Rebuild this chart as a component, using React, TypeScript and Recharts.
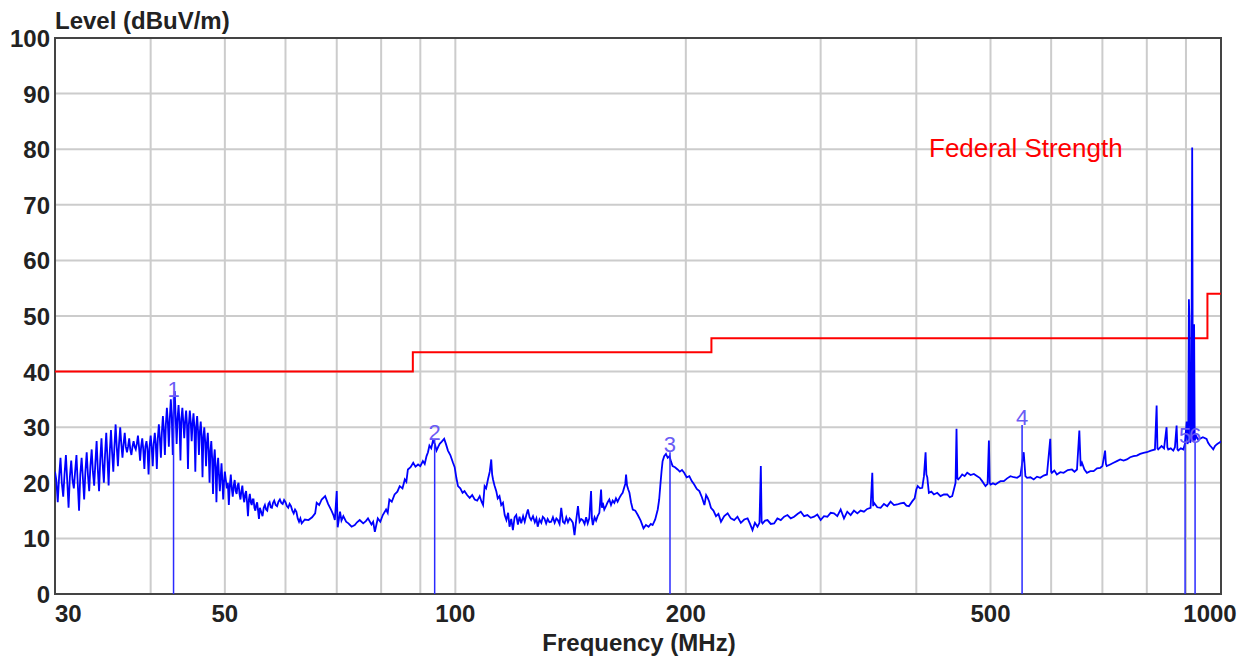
import { LineChart, Line, XAxis, YAxis, CartesianGrid, ReferenceLine, ReferenceDot, ReferenceArea } from "recharts";

// frequency (MHz), level (dBuV/m) pairs, split by band
const band30to50: [number, number][] = [
  [30.0, 22.0], [30.12, 20.5], [30.25, 16.5], [30.37, 21.0], [30.5, 24.5], [30.62, 20.0], [30.75, 17.5], [30.87, 21.5],
  [31.0, 25.0], [31.12, 20.5], [31.25, 15.5], [31.37, 21.0], [31.5, 24.0], [31.62, 20.5], [31.75, 19.0], [31.87, 22.0],
  [32.0, 25.0], [32.12, 20.0], [32.25, 15.0], [32.37, 21.5], [32.5, 24.5], [32.62, 21.0], [32.75, 17.0], [32.87, 22.0],
  [33.0, 25.5], [33.12, 21.5], [33.25, 18.5], [33.37, 23.0], [33.5, 26.0], [33.62, 22.0], [33.75, 19.5], [33.87, 23.5],
  [34.0, 27.5], [34.12, 22.5], [34.25, 18.5], [34.37, 24.0], [34.5, 28.0], [34.62, 23.5], [34.75, 20.0], [34.87, 25.0],
  [35.0, 29.0], [35.12, 24.5], [35.25, 19.5], [35.37, 25.5], [35.5, 29.5], [35.62, 25.5], [35.75, 22.0], [35.87, 26.5],
  [36.0, 30.5], [36.12, 26.5], [36.25, 23.0], [36.37, 27.0], [36.5, 30.0], [36.62, 27.0], [36.75, 24.5], [36.87, 27.0],
  [37.0, 29.0], [37.12, 26.5], [37.25, 25.5], [37.37, 26.5], [37.5, 28.0], [37.62, 26.0], [37.75, 25.0], [37.87, 26.5],
  [38.0, 27.5], [38.12, 26.5], [38.25, 26.0], [38.37, 27.0], [38.5, 28.5], [38.62, 26.5], [38.75, 24.0], [38.87, 26.5],
  [39.0, 28.0], [39.12, 26.0], [39.25, 22.5], [39.37, 26.5], [39.5, 27.5], [39.62, 26.0], [39.75, 21.5], [39.87, 26.5],
  [40.0, 28.5], [40.12, 26.5], [40.25, 23.0], [40.37, 27.0], [40.5, 29.0], [40.62, 27.0], [40.75, 22.5], [40.87, 28.0],
  [41.0, 30.5], [41.12, 28.0], [41.25, 24.5], [41.37, 29.0], [41.5, 32.0], [41.62, 29.5], [41.75, 25.0], [41.87, 30.5],
  [42.0, 33.5], [42.12, 31.0], [42.25, 26.5], [42.37, 31.5], [42.5, 35.0], [42.62, 32.0], [42.75, 25.0], [42.87, 32.5],
  [43.0, 36.5], [43.12, 32.0], [43.25, 27.0], [43.37, 31.5], [43.5, 34.0], [43.62, 31.0], [43.75, 24.0], [43.87, 31.5],
  [44.0, 33.5], [44.12, 31.0], [44.25, 28.0], [44.37, 31.0], [44.5, 33.0], [44.62, 30.5], [44.75, 22.5], [44.87, 30.5],
  [45.0, 33.0], [45.12, 31.0], [45.25, 27.5], [45.37, 30.5], [45.5, 32.5], [45.62, 30.0], [45.75, 22.0], [45.87, 30.0],
  [46.0, 32.0], [46.12, 29.5], [46.25, 25.0], [46.37, 29.0], [46.5, 31.0], [46.62, 28.5], [46.75, 21.0], [46.87, 28.0],
  [47.0, 30.0], [47.12, 27.5], [47.25, 23.0], [47.37, 27.0], [47.5, 29.0], [47.62, 26.0], [47.75, 20.0], [47.87, 25.5],
  [48.0, 27.5], [48.12, 24.5], [48.25, 18.0], [48.37, 24.0], [48.5, 26.0], [48.62, 23.0], [48.75, 16.5], [48.87, 22.5],
  [49.0, 24.5], [49.12, 21.5], [49.25, 18.5], [49.37, 21.0], [49.5, 23.5], [49.62, 20.5], [49.75, 17.0], [49.87, 20.0],
  [50.0, 22.0],
];

const band50to64: [number, number][] = [
  [50.15, 20.5], [50.3, 19.0], [50.45, 20.0], [50.6, 16.0], [50.75, 19.5], [50.9, 21.5], [51.05, 19.0], [51.2, 17.5],
  [51.35, 19.5], [51.5, 20.5], [51.65, 18.5], [51.8, 18.0], [51.95, 19.5], [52.1, 20.0], [52.25, 18.0], [52.4, 17.0],
  [52.55, 18.5], [52.7, 19.5], [52.85, 17.5], [53.0, 16.5], [53.15, 18.0], [53.3, 18.5], [53.45, 16.5], [53.6, 14.0],
  [53.75, 17.0], [53.9, 18.0], [54.05, 16.5], [54.2, 16.0], [54.35, 17.0], [54.5, 17.0], [54.65, 15.5], [54.8, 15.0],
  [54.95, 16.0], [55.1, 16.5], [55.25, 15.0], [55.4, 13.5], [55.55, 15.5], [55.7, 15.0], [55.85, 14.5], [56.0, 14.0],
  [56.2, 15.5], [56.4, 16.0], [56.6, 15.2], [56.8, 15.0], [57.0, 16.2], [57.2, 16.5], [57.4, 15.6], [57.6, 15.5],
  [57.8, 16.4], [58.0, 16.8], [58.25, 16.0], [58.5, 15.8], [58.75, 16.6], [59.0, 17.0], [59.25, 16.4], [59.5, 16.2],
  [59.75, 16.9], [60.0, 16.5], [60.25, 15.8], [60.5, 15.5], [60.75, 16.2], [61.0, 15.8], [61.25, 15.0], [61.5, 14.5],
  [61.75, 15.2], [62.0, 14.8], [62.25, 13.6], [62.5, 13.0], [62.75, 13.6], [63.0, 12.7], [63.6, 13.4],
];

const band64to146: [number, number][] = [
  [64.3, 13.3], [65.0, 13.8], [65.6, 14.5], [65.9, 16.4], [66.4, 16.0], [66.9, 17.0], [67.6, 17.6], [68.2, 16.2],
  [68.9, 15.0], [69.3, 14.2], [69.6, 13.3], [70.0, 18.5], [70.2, 12.0], [70.7, 14.8], [71.0, 13.2], [71.4, 14.0],
  [72.0, 13.0], [72.5, 12.7], [73.2, 12.1], [73.9, 12.4], [74.4, 12.9], [75.0, 13.3], [75.8, 12.7], [76.4, 13.1],
  [76.9, 13.6], [77.7, 12.5], [78.1, 13.0], [78.5, 11.2], [79.2, 13.6], [79.8, 13.0], [80.4, 14.2], [81.2, 15.2],
  [81.6, 14.6], [82.0, 17.0], [82.6, 16.6], [83.3, 17.9], [84.0, 18.4], [84.6, 19.4], [85.3, 19.0], [85.9, 20.6],
  [86.3, 20.2], [86.7, 22.4], [87.4, 22.8], [88.1, 23.6], [88.7, 22.9], [89.4, 23.3], [90.0, 23.0], [90.7, 23.9],
  [91.2, 23.4], [91.7, 24.8], [92.1, 25.5], [92.5, 26.7], [93.0, 26.2], [93.5, 27.6], [94.0, 27.0], [94.5, 25.8],
  [95.0, 26.5], [95.4, 27.0], [96.0, 27.4], [96.7, 27.9], [97.2, 27.0], [97.8, 25.8], [98.5, 25.0], [99.3, 23.6],
  [99.8, 22.8], [100.3, 20.9], [100.8, 19.4], [101.5, 19.0], [102.2, 18.2], [102.8, 18.5], [103.6, 17.8], [104.4, 17.3],
  [105.2, 17.8], [106.0, 17.0], [106.8, 16.8], [107.6, 17.6], [108.2, 16.6], [108.7, 16.0], [109.2, 19.4], [109.7, 19.0],
  [110.3, 20.6], [110.9, 22.0], [111.4, 24.2], [111.7, 21.5], [112.0, 20.6], [112.5, 19.5], [113.1, 18.5], [113.6, 17.2],
  [114.2, 17.6], [114.8, 16.0], [115.4, 16.4], [116.0, 14.2], [116.6, 13.3], [117.2, 14.6], [117.7, 12.1], [118.3, 13.5],
  [118.9, 11.5], [119.5, 13.8], [120.1, 14.2], [120.7, 12.5], [121.3, 13.9], [121.9, 12.7], [122.6, 14.0], [123.2, 13.0],
  [123.8, 14.2], [124.4, 15.2], [125.0, 13.8], [125.6, 13.3], [126.3, 14.0], [127.0, 12.9], [127.6, 13.6], [128.1, 12.1],
  [128.8, 13.4], [129.5, 12.8], [130.1, 13.9], [130.7, 13.6], [131.4, 12.7], [132.0, 13.5], [132.7, 12.9], [133.4, 13.0],
  [134.1, 13.8], [134.8, 12.8], [135.5, 13.6], [136.1, 13.3], [136.8, 12.6], [137.5, 15.5], [138.2, 13.0], [138.9, 12.7],
  [139.6, 13.8], [140.3, 12.9], [141.0, 13.6], [141.7, 13.3], [142.4, 12.8], [143.1, 10.6], [143.8, 13.2], [144.6, 15.8],
  [145.3, 13.0],
];

const band146to382: [number, number][] = [
  [146.0, 13.5], [146.7, 13.3], [147.5, 12.6], [148.2, 13.8], [148.9, 12.7], [149.6, 13.6], [150.4, 18.5], [150.8, 13.5],
  [151.2, 12.4], [152.0, 13.8], [152.7, 13.2], [153.4, 14.0], [154.2, 14.6], [155.0, 18.8], [155.4, 15.5], [155.8, 16.4],
  [156.5, 15.2], [157.3, 15.8], [158.1, 16.5], [158.9, 17.0], [159.7, 16.0], [160.5, 16.8], [161.3, 16.4], [162.1, 17.2],
  [162.9, 16.6], [163.8, 17.3], [164.6, 17.8], [165.4, 18.2], [166.2, 19.2], [166.7, 19.8], [167.1, 21.5], [167.6, 19.5],
  [168.2, 18.8], [168.8, 18.2], [169.6, 16.5], [170.5, 15.2], [171.8, 15.0], [173.1, 14.2], [174.6, 13.2], [176.1, 11.8],
  [177.4, 12.4], [178.8, 12.1], [180.0, 12.6], [181.0, 12.4], [182.4, 13.4], [183.8, 15.2], [184.6, 17.0], [185.2, 19.4],
  [185.9, 22.0], [186.5, 23.9], [187.4, 24.8], [188.4, 25.2], [189.4, 24.5], [190.4, 24.8], [191.3, 23.8], [192.2, 23.0],
  [193.6, 22.8], [195.1, 22.4], [196.4, 22.0], [197.7, 22.3], [199.0, 21.8], [200.5, 21.0], [202.1, 21.2], [203.6, 20.3],
  [205.1, 19.7], [206.7, 18.9], [208.3, 18.5], [209.9, 17.4], [211.5, 16.0], [212.6, 17.8], [213.6, 17.3], [214.6, 16.6],
  [215.7, 15.5], [217.3, 15.0], [219.0, 14.0], [220.6, 14.4], [222.3, 13.0], [224.5, 14.0], [226.8, 14.5], [229.0, 13.6],
  [231.3, 13.3], [233.6, 13.9], [236.0, 12.8], [238.4, 13.4], [240.8, 13.6], [242.6, 12.6], [244.4, 11.5], [246.2, 12.8],
  [248.1, 12.1], [249.6, 12.8], [250.6, 23.0], [251.2, 13.0], [251.9, 12.7], [253.8, 13.2], [255.7, 13.3], [258.2, 12.6],
  [260.8, 12.7], [263.4, 13.6], [266.1, 13.3], [268.8, 13.9], [271.5, 14.2], [274.2, 13.6], [277.0, 13.9], [279.8, 14.4],
  [282.6, 14.8], [285.4, 14.0], [288.3, 14.2], [291.2, 13.7], [294.1, 13.9], [297.0, 14.3], [300.0, 13.3], [303.0, 14.0],
  [306.1, 13.9], [309.2, 14.6], [312.3, 14.5], [315.4, 14.0], [318.6, 15.2], [321.8, 13.6], [325.0, 14.8], [328.3, 14.2],
  [331.6, 15.0], [335.0, 14.5], [338.3, 15.0], [341.7, 14.8], [345.1, 15.3], [348.6, 15.5], [350.4, 21.8], [351.3, 15.8],
  [352.2, 16.4], [355.7, 15.6], [359.3, 15.5], [362.9, 16.2], [366.5, 15.8], [370.2, 16.6], [374.0, 16.0], [377.7, 16.1],
  [381.5, 16.3],
];

const band382to1000: [number, number][] = [
  [385.4, 16.4], [388.3, 15.9], [391.2, 15.8], [395.3, 16.7], [398.0, 17.2], [400.0, 18.8], [401.7, 19.4], [404.5, 19.0],
  [407.2, 19.1], [409.3, 21.2], [411.3, 25.5], [412.3, 21.5], [413.4, 21.0], [415.4, 18.2], [418.5, 18.4], [421.7, 17.9],
  [426.0, 18.2], [430.2, 17.6], [434.6, 17.9], [439.0, 17.9], [442.3, 17.4], [445.6, 17.6], [450.1, 20.0], [451.4, 29.7],
  [452.5, 20.8], [453.7, 20.6], [456.4, 21.0], [459.2, 21.5], [462.6, 21.2], [466.2, 21.8], [470.9, 21.4], [475.6, 21.6],
  [480.4, 21.2], [484.0, 20.9], [487.6, 20.3], [492.5, 19.4], [495.6, 19.8], [497.6, 27.6], [498.8, 20.0], [500.0, 19.7],
  [503.7, 19.9], [507.5, 19.7], [511.3, 20.0], [515.2, 20.3], [520.4, 20.3], [525.6, 20.8], [530.9, 21.2], [536.2, 21.0],
  [541.6, 20.9], [547.0, 21.3], [552.5, 25.5], [555.3, 21.2], [558.1, 20.9], [563.7, 21.0], [569.4, 20.6], [575.0, 21.1],
  [580.8, 20.9], [586.6, 21.3], [592.5, 21.5], [598.4, 27.9], [600.0, 22.0], [601.2, 21.8], [605.8, 22.2], [610.4, 21.5],
  [616.8, 21.9], [622.9, 21.8], [630.8, 22.3], [638.8, 22.4], [643.6, 22.0], [648.5, 22.4], [653.1, 29.4], [655.7, 23.0],
  [658.3, 23.6], [663.2, 22.4], [668.2, 21.8], [675.0, 22.1], [681.8, 22.1], [688.7, 22.6], [695.6, 22.7], [700.0, 23.0],
  [705.7, 25.8], [707.4, 23.4], [709.2, 23.0], [716.6, 23.3], [723.9, 23.6], [731.2, 23.9], [738.5, 24.2], [746.0, 24.0],
  [753.4, 24.2], [761.0, 24.6], [768.6, 24.8], [776.4, 24.9], [784.2, 25.2], [792.1, 25.4], [800.0, 25.5], [810.0, 25.8],
  [819.8, 26.0], [824.0, 33.9], [826.0, 26.2], [828.0, 26.0], [836.3, 26.6], [842.6, 26.2], [849.0, 30.0], [851.0, 26.4],
  [853.3, 26.0], [859.8, 26.2], [866.3, 25.8], [870.6, 26.4], [875.0, 30.3], [877.2, 26.0], [879.4, 25.8], [886.2, 26.2],
  [893.0, 26.0], [897.0, 27.0], [902.0, 31.0], [904.0, 27.0], [906.0, 27.4], [908.0, 53.0], [909.5, 49.0], [911.5, 27.2],
  [914.5, 28.0], [917.0, 80.3], [919.0, 27.5], [921.0, 28.0], [922.3, 48.5], [924.0, 27.6], [928.0, 28.4], [933.0, 27.8],
  [938.0, 27.9], [947.0, 28.2], [957.5, 27.9], [962.0, 27.2], [967.3, 26.7], [972.0, 26.4], [977.0, 26.0], [982.0, 26.6],
  [987.0, 26.9], [992.0, 27.1], [997.0, 27.3], [1000.0, 27.5],
];

const limitFreq = [30, 88, 216, 960, 1000];
const limitLevel = [40, 43.5, 46, 54, 54];

const markerName = ["1", "2", "3", "4", "5", "6"];
const markerFreq = [42.85, 93.97, 190.7, 549.8, 897.6, 925.0];
const markerLevel = [35.4, 27.7, 25.5, 30.4, 27.2, 27.2];

const xTicks = [30, 40, 50, 60, 70, 80, 90, 100, 200, 300, 400, 500, 600, 700, 800, 900, 1000];
const xLabels = [30, 50, 100, 200, 500, 1000];
const yTicks = [0, 10, 20, 30, 40, 50, 60, 70, 80, 90, 100];

const trace = [...band30to50, ...band50to64, ...band64to146, ...band146to382, ...band382to1000].map(([f, v]) => ({ f, v }));
const limit = limitFreq.map((f, i) => ({ f, v: limitLevel[i] }));

const FONT = "'Liberation Sans', Arial, sans-serif";

const XTick = (props: any) => {
  const { x, y, payload } = props;
  const v = payload.value;
  if (!xLabels.includes(v)) return <g />;
  const anchor = v === 30 ? "start" : "middle";
  const dx = v === 1000 ? -11 : 0;
  return (
    <text x={x + dx} y={y + 28} textAnchor={anchor} fontFamily={FONT} fontWeight="bold" fontSize={24} fill="#222">
      {v}
    </text>
  );
};

const YTick = (props: any) => {
  const { x, y, payload } = props;
  return (
    <text x={x - 5} y={y + 9} textAnchor="end" fontFamily={FONT} fontWeight="bold" fontSize={24} fill="#222">
      {payload.value}
    </text>
  );
};

export default function App() {
  return (
    <div style={{ position: "absolute", left: 0, top: 0, width: 1250, height: 659, background: "#fff" }}>
      <LineChart width={1250} height={659} margin={{ top: 38, right: 29, bottom: 0, left: 0 }}>
        <CartesianGrid stroke="#cccccc" strokeWidth={2} />
        <XAxis
          dataKey="f"
          type="number"
          scale="log"
          domain={[30, 1000]}
          allowDataOverflow
          ticks={xTicks}
          tick={<XTick />}
          tickSize={0}
          tickMargin={0}
          tickLine={false}
          axisLine={false}
          height={65}
          interval={0}
        />
        <YAxis
          type="number"
          domain={[0, 100]}
          ticks={yTicks}
          tick={<YTick />}
          tickSize={0}
          tickMargin={0}
          tickLine={false}
          axisLine={false}
          width={55}
          interval={0}
        />
        <ReferenceArea x1={30} x2={1000} y1={0} y2={100} fill="none" stroke="#444" strokeWidth={2} ifOverflow="visible" />
        <Line data={limit} dataKey="v" type="stepAfter" stroke="#ff0000" strokeWidth={2} dot={false} isAnimationActive={false} />
        <Line data={trace} dataKey="v" type="linear" stroke="#0000ff" strokeWidth={1.8} dot={false} isAnimationActive={false} />
        {markerFreq.map((f, i) => (
          <ReferenceLine
            key={"m" + i}
            segment={[{ x: f, y: 0 }, { x: f, y: markerLevel[i] }]}
            stroke="#2a2aff"
            strokeWidth={1.5}
            ifOverflow="visible"
          />
        ))}
        {markerFreq.map((f, i) => (
          <ReferenceDot
            key={"l" + i}
            x={f}
            y={markerLevel[i]}
            ifOverflow="visible"
            shape={(p: any) => (
              <text x={p.cx} y={p.cy} textAnchor="middle" fontFamily={FONT} fontSize={22} fill="#6a5cf5">
                {markerName[i]}
              </text>
            )}
          />
        ))}
      </LineChart>
      <svg width={1250} height={659} style={{ position: "absolute", left: 0, top: 0, pointerEvents: "none" }}>
        <text x={55} y={29} fontFamily={FONT} fontWeight="bold" fontSize={24} fill="#222">Level (dBuV/m)</text>
        <text x={639} y={651} textAnchor="middle" fontFamily={FONT} fontWeight="bold" fontSize={24} fill="#222">Frequency (MHz)</text>
        <text x={929} y={157} fontFamily={FONT} fontSize={26} fill="#ff0000">Federal Strength</text>
      </svg>
    </div>
  );
}
